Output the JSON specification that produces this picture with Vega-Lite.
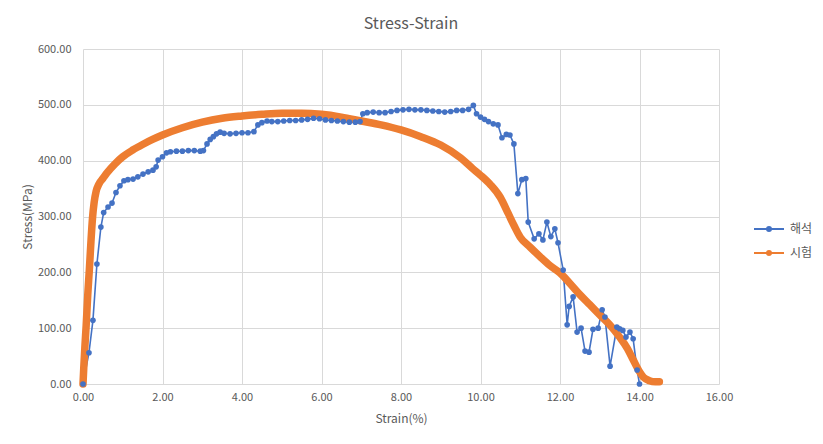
{
  "$schema": "https://vega.github.io/schema/vega-lite/v6.json",
  "width": 636,
  "height": 335,
  "autosize": "none",
  "padding": {"left": 83, "top": 49, "right": 104, "bottom": 60},
  "background": "white",
  "title": {
    "text": "Stress-Strain",
    "fontSize": 16,
    "font": "Noto Sans CJK KR",
    "fontWeight": "normal",
    "color": "#595959",
    "anchor": "middle",
    "dx": 10,
    "offset": 11
  },
  "config": {
    "view": {"stroke": null},
    "font": "Noto Sans CJK KR",
    "axis": {
      "grid": true,
      "gridColor": "#d9d9d9",
      "gridWidth": 1,
      "domain": false,
      "ticks": false,
      "labelFlush": false,
      "labelColor": "#595959",
      "labelFontSize": 11,
      "titleColor": "#595959",
      "titleFontSize": 12,
      "titleFontWeight": "normal",
      "labelFont": "Noto Sans CJK KR",
      "titleFont": "Noto Sans CJK KR"
    }
  },
  "datasets": {
    "sim": [
      {"series": "해석", "strain": 0.0, "stress": 0},
      {"series": "해석", "strain": 0.15, "stress": 56},
      {"series": "해석", "strain": 0.25, "stress": 114},
      {"series": "해석", "strain": 0.35, "stress": 215},
      {"series": "해석", "strain": 0.45, "stress": 281},
      {"series": "해석", "strain": 0.52, "stress": 307},
      {"series": "해석", "strain": 0.63, "stress": 317},
      {"series": "해석", "strain": 0.73, "stress": 324},
      {"series": "해석", "strain": 0.83, "stress": 343},
      {"series": "해석", "strain": 0.93, "stress": 355},
      {"series": "해석", "strain": 1.03, "stress": 364},
      {"series": "해석", "strain": 1.13, "stress": 366},
      {"series": "해석", "strain": 1.26, "stress": 367},
      {"series": "해석", "strain": 1.38, "stress": 371},
      {"series": "해석", "strain": 1.51, "stress": 376},
      {"series": "해석", "strain": 1.64, "stress": 380},
      {"series": "해석", "strain": 1.76, "stress": 383},
      {"series": "해석", "strain": 1.84, "stress": 389},
      {"series": "해석", "strain": 1.89, "stress": 401},
      {"series": "해석", "strain": 2.0, "stress": 407},
      {"series": "해석", "strain": 2.1, "stress": 414},
      {"series": "해석", "strain": 2.2, "stress": 416},
      {"series": "해석", "strain": 2.35, "stress": 417},
      {"series": "해석", "strain": 2.5, "stress": 417},
      {"series": "해석", "strain": 2.65, "stress": 418},
      {"series": "해석", "strain": 2.8, "stress": 418},
      {"series": "해석", "strain": 2.95, "stress": 417},
      {"series": "해석", "strain": 3.03, "stress": 418},
      {"series": "해석", "strain": 3.12, "stress": 430},
      {"series": "해석", "strain": 3.2, "stress": 438},
      {"series": "해석", "strain": 3.28, "stress": 443},
      {"series": "해석", "strain": 3.36, "stress": 448},
      {"series": "해석", "strain": 3.45, "stress": 451},
      {"series": "해석", "strain": 3.55, "stress": 449},
      {"series": "해석", "strain": 3.7, "stress": 448},
      {"series": "해석", "strain": 3.85, "stress": 449},
      {"series": "해석", "strain": 4.0, "stress": 450},
      {"series": "해석", "strain": 4.15, "stress": 450},
      {"series": "해석", "strain": 4.3, "stress": 452},
      {"series": "해석", "strain": 4.4, "stress": 464},
      {"series": "해석", "strain": 4.5, "stress": 468},
      {"series": "해석", "strain": 4.63, "stress": 471},
      {"series": "해석", "strain": 4.75, "stress": 470},
      {"series": "해석", "strain": 4.9, "stress": 470},
      {"series": "해석", "strain": 5.05, "stress": 471},
      {"series": "해석", "strain": 5.2, "stress": 472},
      {"series": "해석", "strain": 5.35, "stress": 472},
      {"series": "해석", "strain": 5.5, "stress": 473},
      {"series": "해석", "strain": 5.65, "stress": 474},
      {"series": "해석", "strain": 5.8, "stress": 476},
      {"series": "해석", "strain": 5.95, "stress": 475},
      {"series": "해석", "strain": 6.1, "stress": 473},
      {"series": "해석", "strain": 6.25, "stress": 472},
      {"series": "해석", "strain": 6.4, "stress": 471},
      {"series": "해석", "strain": 6.55, "stress": 470},
      {"series": "해석", "strain": 6.7, "stress": 469},
      {"series": "해석", "strain": 6.85, "stress": 469},
      {"series": "해석", "strain": 6.97, "stress": 470},
      {"series": "해석", "strain": 7.04, "stress": 484},
      {"series": "해석", "strain": 7.15, "stress": 486},
      {"series": "해석", "strain": 7.3, "stress": 487},
      {"series": "해석", "strain": 7.45, "stress": 486},
      {"series": "해석", "strain": 7.6, "stress": 486},
      {"series": "해석", "strain": 7.75, "stress": 488},
      {"series": "해석", "strain": 7.9, "stress": 490},
      {"series": "해석", "strain": 8.05, "stress": 491},
      {"series": "해석", "strain": 8.2, "stress": 492},
      {"series": "해석", "strain": 8.35, "stress": 491},
      {"series": "해석", "strain": 8.5, "stress": 491},
      {"series": "해석", "strain": 8.65, "stress": 490},
      {"series": "해석", "strain": 8.8, "stress": 489},
      {"series": "해석", "strain": 8.95, "stress": 488},
      {"series": "해석", "strain": 9.1, "stress": 487},
      {"series": "해석", "strain": 9.25, "stress": 488},
      {"series": "해석", "strain": 9.4, "stress": 490},
      {"series": "해석", "strain": 9.55, "stress": 490},
      {"series": "해석", "strain": 9.7, "stress": 492},
      {"series": "해석", "strain": 9.82, "stress": 499},
      {"series": "해석", "strain": 9.9, "stress": 484},
      {"series": "해석", "strain": 10.0, "stress": 478},
      {"series": "해석", "strain": 10.1, "stress": 474},
      {"series": "해석", "strain": 10.2, "stress": 470},
      {"series": "해석", "strain": 10.32, "stress": 466},
      {"series": "해석", "strain": 10.44, "stress": 464},
      {"series": "해석", "strain": 10.54, "stress": 441},
      {"series": "해석", "strain": 10.65, "stress": 447},
      {"series": "해석", "strain": 10.74, "stress": 446},
      {"series": "해석", "strain": 10.84, "stress": 430},
      {"series": "해석", "strain": 10.94, "stress": 341},
      {"series": "해석", "strain": 11.04, "stress": 366},
      {"series": "해석", "strain": 11.14, "stress": 368},
      {"series": "해석", "strain": 11.2, "stress": 290},
      {"series": "해석", "strain": 11.35, "stress": 260},
      {"series": "해석", "strain": 11.47, "stress": 269},
      {"series": "해석", "strain": 11.57, "stress": 258},
      {"series": "해석", "strain": 11.67, "stress": 290},
      {"series": "해석", "strain": 11.77, "stress": 264},
      {"series": "해석", "strain": 11.87, "stress": 278},
      {"series": "해석", "strain": 11.95, "stress": 253},
      {"series": "해석", "strain": 12.08, "stress": 204},
      {"series": "해석", "strain": 12.18, "stress": 106},
      {"series": "해석", "strain": 12.23, "stress": 139},
      {"series": "해석", "strain": 12.33, "stress": 156},
      {"series": "해석", "strain": 12.43, "stress": 93},
      {"series": "해석", "strain": 12.53, "stress": 100},
      {"series": "해석", "strain": 12.63, "stress": 59},
      {"series": "해석", "strain": 12.73, "stress": 57},
      {"series": "해석", "strain": 12.83, "stress": 98},
      {"series": "해석", "strain": 12.96, "stress": 100},
      {"series": "해석", "strain": 13.06, "stress": 133},
      {"series": "해석", "strain": 13.13, "stress": 120},
      {"series": "해석", "strain": 13.26, "stress": 32},
      {"series": "해석", "strain": 13.43, "stress": 102},
      {"series": "해석", "strain": 13.5, "stress": 99},
      {"series": "해석", "strain": 13.58, "stress": 96},
      {"series": "해석", "strain": 13.66, "stress": 84},
      {"series": "해석", "strain": 13.76, "stress": 93},
      {"series": "해석", "strain": 13.84, "stress": 81},
      {"series": "해석", "strain": 13.94, "stress": 25},
      {"series": "해석", "strain": 14.0, "stress": 0}
    ],
    "test": [
      {"series": "시험", "strain": 0.0, "stress": 0},
      {"series": "시험", "strain": 0.02, "stress": 30},
      {"series": "시험", "strain": 0.05, "stress": 70},
      {"series": "시험", "strain": 0.08, "stress": 105},
      {"series": "시험", "strain": 0.12, "stress": 160},
      {"series": "시험", "strain": 0.16, "stress": 205},
      {"series": "시험", "strain": 0.2, "stress": 255},
      {"series": "시험", "strain": 0.24, "stress": 298},
      {"series": "시험", "strain": 0.28, "stress": 325},
      {"series": "시험", "strain": 0.33, "stress": 345},
      {"series": "시험", "strain": 0.4, "stress": 358},
      {"series": "시험", "strain": 0.5, "stress": 368},
      {"series": "시험", "strain": 0.6, "stress": 378},
      {"series": "시험", "strain": 0.8, "stress": 394},
      {"series": "시험", "strain": 1.0, "stress": 407},
      {"series": "시험", "strain": 1.25, "stress": 419},
      {"series": "시험", "strain": 1.5, "stress": 429},
      {"series": "시험", "strain": 1.75, "stress": 438},
      {"series": "시험", "strain": 2.0, "stress": 446},
      {"series": "시험", "strain": 2.5, "stress": 459},
      {"series": "시험", "strain": 3.0, "stress": 469},
      {"series": "시험", "strain": 3.5, "stress": 476},
      {"series": "시험", "strain": 4.0, "stress": 480},
      {"series": "시험", "strain": 4.5, "stress": 483},
      {"series": "시험", "strain": 5.0, "stress": 485},
      {"series": "시험", "strain": 5.5, "stress": 485},
      {"series": "시험", "strain": 6.0, "stress": 483},
      {"series": "시험", "strain": 6.5, "stress": 478},
      {"series": "시험", "strain": 7.0, "stress": 471},
      {"series": "시험", "strain": 7.5, "stress": 464},
      {"series": "시험", "strain": 8.0, "stress": 455},
      {"series": "시험", "strain": 8.5, "stress": 443},
      {"series": "시험", "strain": 9.0, "stress": 428},
      {"series": "시험", "strain": 9.5, "stress": 405},
      {"series": "시험", "strain": 9.8, "stress": 386},
      {"series": "시험", "strain": 10.0, "stress": 374},
      {"series": "시험", "strain": 10.25, "stress": 357},
      {"series": "시험", "strain": 10.5, "stress": 334},
      {"series": "시험", "strain": 10.7, "stress": 305},
      {"series": "시험", "strain": 10.85, "stress": 283},
      {"series": "시험", "strain": 11.0, "stress": 263},
      {"series": "시험", "strain": 11.25, "stress": 245},
      {"series": "시험", "strain": 11.5, "stress": 228},
      {"series": "시험", "strain": 11.75, "stress": 212},
      {"series": "시험", "strain": 12.0, "stress": 199},
      {"series": "시험", "strain": 12.25, "stress": 180},
      {"series": "시험", "strain": 12.5, "stress": 160},
      {"series": "시험", "strain": 12.75, "stress": 142},
      {"series": "시험", "strain": 13.0, "stress": 124},
      {"series": "시험", "strain": 13.25, "stress": 106},
      {"series": "시험", "strain": 13.5, "stress": 84},
      {"series": "시험", "strain": 13.7, "stress": 63},
      {"series": "시험", "strain": 13.85, "stress": 42},
      {"series": "시험", "strain": 14.0, "stress": 22},
      {"series": "시험", "strain": 14.1, "stress": 12},
      {"series": "시험", "strain": 14.25, "stress": 6},
      {"series": "시험", "strain": 14.4, "stress": 4},
      {"series": "시험", "strain": 14.5, "stress": 4}
    ]
  },
  "encoding": {
    "x": {
      "field": "strain",
      "type": "quantitative",
      "scale": {"domain": [0, 16], "nice": false, "zero": false},
      "axis": {
        "title": "Strain(%)",
        "values": [0, 2, 4, 6, 8, 10, 12, 14, 16],
        "format": ".2f",
        "labelPadding": 7,
        "titlePadding": 11
      }
    },
    "y": {
      "field": "stress",
      "type": "quantitative",
      "scale": {"domain": [0, 600], "nice": false},
      "axis": {
        "title": "Stress(MPa)",
        "values": [0, 100, 200, 300, 400, 500, 600],
        "format": ".2f",
        "labelPadding": 12,
        "titlePadding": 3
      }
    },
    "color": {
      "field": "series",
      "type": "nominal",
      "scale": {"domain": ["해석", "시험"], "range": ["#4472C4", "#ED7D31"]},
      "legend": {
        "title": null,
        "orient": "none",
        "legendX": 675,
        "legendY": 169,
        "padding": 0,
        "symbolSize": 400,
        "symbolType": "M-1.5,0L1.5,0M-0.2,0A0.2,0.2,0,1,1,0.2,0A0.2,0.2,0,1,1,-0.2,0Z",
        "symbolStrokeWidth": 2,
        "labelOffset": 10,
        "labelFontSize": 12,
        "labelColor": "#595959",
        "labelFont": "Noto Sans CJK KR",
        "rowPadding": 7,
        "encode": {
          "symbols": {
            "update": {
              "fill": {"scale": "color", "field": "value"},
              "stroke": {"scale": "color", "field": "value"},
              "strokeWidth": {"value": 2},
              "opacity": {"value": 1}
            }
          }
        }
      }
    }
  },
  "layer": [
    {
      "data": {"name": "sim"},
      "mark": {"type": "line", "strokeWidth": 1.6}
    },
    {
      "data": {"name": "test"},
      "mark": {"type": "line", "strokeWidth": 7.5, "strokeCap": "round", "strokeJoin": "round", "interpolate": "monotone"}
    },
    {
      "data": {"name": "sim"},
      "mark": {"type": "point", "filled": true, "size": 32, "opacity": 1}
    }
  ]
}
